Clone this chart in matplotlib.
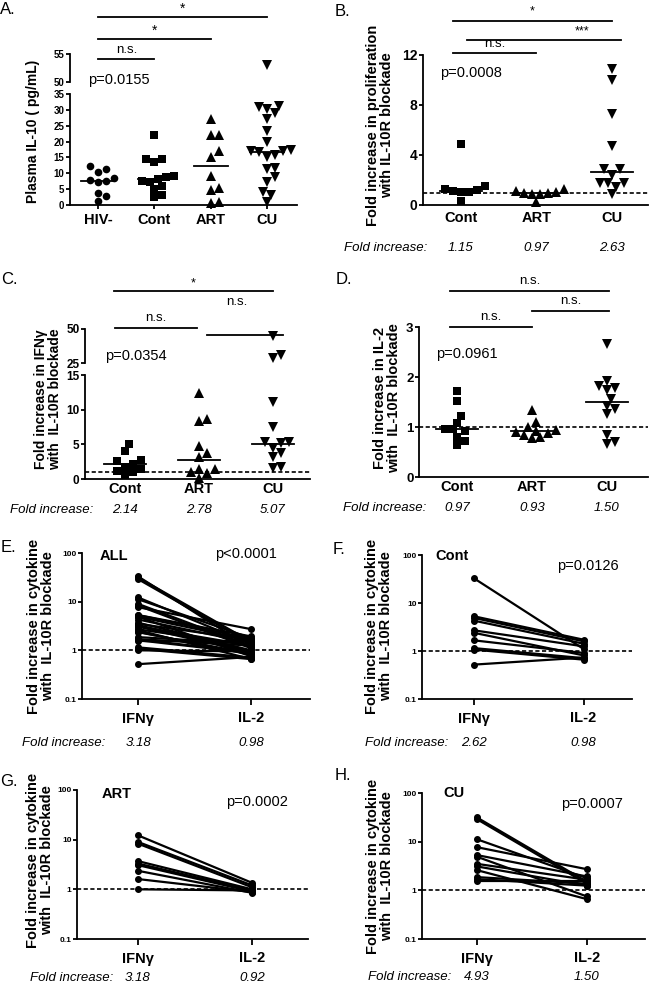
import numpy as np
import matplotlib
matplotlib.use("Agg")
import matplotlib.pyplot as plt
from matplotlib.lines import Line2D
from matplotlib.transforms import blended_transform_factory

plt.rcParams['font.family'] = ['Liberation Sans', 'DejaVu Sans']

# ---- data ----
# A: plasma IL-10 (pg/mL)
a_groups = ["HIV-", "Cont", "ART", "CU"]
a_hivneg = [12.3, 11.3, 10.3, 8.6, 8.0, 7.6, 7.3, 3.7, 2.8, 1.3]
a_cont = [22.1, 14.5, 14.4, 13.6, 9.0, 8.7, 8.3, 7.5, 7.4, 6.0, 5.2, 3.0, 2.5]
a_art = [27.1, 22.1, 22.1, 17.0, 15.2, 9.1, 5.3, 4.7, 1.0, 0.7]
a_cu = [53.0, 31.2, 31.0, 30.2, 28.9, 27.0, 23.4, 20.0, 17.4, 17.0, 17.0, 16.6,
        15.8, 15.2, 11.6, 11.3, 8.9, 7.4, 4.2, 3.2, 1.1]
a_medians = [7.7, 8.2, 12.3, 16.7]

groups3 = ["Cont", "ART", "CU"]
# B: proliferation
b_cont = [4.9, 1.55, 1.28, 1.2, 1.15, 1.07, 1.07, 0.3]
b_art = [1.3, 1.15, 1.05, 0.97, 0.97, 0.9, 0.85, 0.25]
b_cu = [10.9, 10.0, 7.3, 4.7, 2.9, 2.9, 2.4, 1.8, 1.8, 1.8, 1.45, 0.9]
b_medians = [1.15, 0.97, 2.63]
# C: IFNg
c_cont = [5.1, 4.1, 2.7, 2.6, 2.2, 1.8, 1.5, 1.1, 1.05, 0.6]
c_art = [12.4, 8.7, 8.3, 4.7, 3.7, 3.2, 1.5, 1.4, 1.0, 0.9, 0.15]
c_cu = [45.0, 31.0, 28.5, 11.1, 7.5, 5.3, 5.2, 5.3, 4.4, 3.8, 3.2, 1.7, 1.6]
c_medians = [2.14, 2.78, 5.07]
# D: IL-2
d_cont = [1.73, 1.53, 1.23, 1.09, 0.97, 0.96, 0.92, 0.81, 0.73, 0.64]
d_art = [1.35, 1.11, 1.0, 0.95, 0.93, 0.9, 0.89, 0.84, 0.8, 0.79]
d_cu = [2.66, 1.92, 1.82, 1.78, 1.74, 1.57, 1.42, 1.37, 1.26, 0.84, 0.71, 0.66]
d_medians = [0.97, 0.93, 1.50]

# E-H: paired IFNg / IL-2 fold increase
cytokines = ["IFNγ", "IL-2"]
f_ifng = [33.0, 5.3, 4.9, 4.3, 2.7, 2.4, 1.67, 1.15, 1.07, 0.52]
f_il2 = [1.1, 1.72, 1.59, 1.42, 1.25, 0.81, 0.91, 0.71, 0.66, 0.73]
g_ifng = [12.2, 9.0, 8.3, 3.7, 3.3, 3.07, 2.36, 1.61, 1.0]
g_il2 = [1.35, 1.2, 1.1, 1.0, 0.95, 0.9, 0.85, 0.88, 0.95]
h_ifng = [31.4, 29.0, 11.2, 7.7, 5.3, 4.9, 3.5, 3.1, 2.6, 1.87, 1.7, 1.53]
h_il2 = [1.5, 1.37, 1.78, 2.72, 1.93, 0.75, 1.65, 1.25, 0.66, 1.37, 1.25, 1.53]
e_ifng = f_ifng + g_ifng + h_ifng
e_il2 = f_il2 + g_il2 + h_il2
e_fold = ["3.18", "0.98"]
f_fold = ["2.62", "0.98"]
g_fold = ["3.18", "0.92"]
h_fold = ["4.93", "1.50"]

# ---- layout helpers (pixel coords, origin top-left) ----
W, H = 650, 983
fig = plt.figure(figsize=(W / 100, H / 100), dpi=100)


def fx(x):
    return x / W


def fy(y):
    return 1 - y / H


def add_ax(x0, y0, x1, y1):
    return fig.add_axes([fx(x0), fy(y1), (x1 - x0) / W, (y1 - y0) / H])


def style(ax, bottom=True):
    for s in ['top', 'right']:
        ax.spines[s].set_visible(False)
    for s in ['left', 'bottom']:
        ax.spines[s].set_linewidth(1.3)
    if not bottom:
        ax.spines['bottom'].set_visible(False)
        ax.set_xticks([])
    ax.tick_params(width=1.3, length=3, color='k')
    ax.patch.set_alpha(0)


def yticks(ax, ticks, labels, size):
    ax.set_yticks(ticks)
    ax.set_yticklabels(labels, fontsize=size, fontweight='bold')
    ax.tick_params(axis='y', pad=1)


def xcats(ax, labels, ticklen=0, pad=3, size=10.5):
    ax.set_xticks(range(len(labels)))
    ax.set_xticklabels(labels, fontsize=size, fontweight='bold')
    ax.tick_params(axis='x', length=ticklen, pad=pad)


def swarm(ax, xc, vals, size):
    if len(vals) == 0:
        return np.array([])
    pts = ax.transData.transform(np.column_stack([np.full(len(vals), float(xc)), vals]))
    ypx = pts[:, 1]
    cands = [0.0]
    for k in range(1, 10):
        cands += [k * 0.5 * size, -k * 0.5 * size]
    placed = []
    offs = np.zeros(len(vals))
    for i in np.argsort(ypx):
        for c in cands:
            if all((c - px) ** 2 + (ypx[i] - py) ** 2 >= (0.95 * size) ** 2 for px, py in placed):
                break
        offs[i] = c
        placed.append((c, ypx[i]))
    x0, x1 = ax.get_xlim()
    ppu = ax.get_window_extent().width / (x1 - x0)
    return xc + offs / ppu


def dots(ax, i, vals, marker, ms=5.2, size=8):
    vals = np.asarray(vals, float)
    xs = swarm(ax, i, vals, size)
    ax.plot(xs, vals, ls='none', marker=marker, color='k', ms=ms, clip_on=False,
            markeredgewidth=0)


def median_line(ax, i, m, half=0.28):
    ax.plot([i - half, i + half], [m, m], color='k', lw=1.3)


def sig(ax, x0, x1, ybar, label, ylab, xlab=None, size=9.5):
    tr = blended_transform_factory(ax.transData, fig.transFigure)
    fig.add_artist(Line2D([x0, x1], [fy(ybar)] * 2, transform=tr, color='k', lw=1.3))
    xm = (x0 + x1) / 2 if xlab is None else xlab
    ax.text(xm, fy(ylab), label, transform=tr, ha='center', va='center', fontsize=size)


def fold_row(ax, ypix, xleft, vals):
    fig.text(fx(xleft), fy(ypix), 'Fold increase:', ha='left', va='center',
             style='italic', fontsize=9.5)
    tr = blended_transform_factory(ax.transData, fig.transFigure)
    for i, v in enumerate(vals):
        ax.text(i, fy(ypix), v, transform=tr, ha='center', va='center',
                style='italic', fontsize=9.5)


def ylab(xc, yc, s, size=10.5):
    fig.text(fx(xc), fy(yc), s, rotation=90, ha='center', va='center',
             fontsize=size, fontweight='bold', linespacing=1.0)


def ptext(x, y, s, size=10.5, weight='normal'):
    fig.text(fx(x), fy(y), s, ha='left', va='center', fontsize=size, fontweight=weight)


def letter(x, y, s):
    fig.text(fx(x), fy(y), s, ha='left', va='center', fontsize=12)


markers = ['o', 's', '^', 'v']

# ---------------- A ----------------
axA = add_ax(70, 94, 297, 205)
axA2 = add_ax(70, 54, 297, 82)
for ax in (axA, axA2):
    ax.set_xlim(-0.5, 3.53)
style(axA)
style(axA2, bottom=False)
axA.set_ylim(0, 35)
axA2.set_ylim(50, 55)
yticks(axA, range(0, 36, 5), [str(v) for v in range(0, 36, 5)], 7)
yticks(axA2, [50, 55], ['50', '55'], 7)
xcats(axA, a_groups, ticklen=3, pad=2.5)
for i, vals in enumerate([a_hivneg, a_cont, a_art, a_cu]):
    lo = [v for v in vals if v <= 35]
    hi = [v for v in vals if v > 35]
    dots(axA, i, lo, markers[i], ms=5.5 if i < 2 else 6.5)
    dots(axA2, i, hi, markers[i], ms=6.5)
    median_line(axA, i, a_medians[i], half=0.3)
sig(axA, 0, 3, 17, '*', 9, size=10)
sig(axA, 0, 2, 39, '*', 31, size=10)
sig(axA, 0, 1, 59, 'n.s.', 50)
ptext(88, 80, 'p=0.0155')
ylab(33, 131, 'Plasma IL-10 ( pg/mL)', size=10)
letter(0, 10, 'A.')

# ---------------- B ----------------
axB = add_ax(423, 55, 648, 205)
axB.set_xlim(-0.5, 2.48)
axB.set_ylim(0, 12)
style(axB)
yticks(axB, [0, 4, 8, 12], ['0', '4', '8', '12'], 10)
xcats(axB, groups3, pad=4)
axB.axhline(1, color='k', lw=1.2, ls=(0, (2.5, 1.5)))
for i, vals in enumerate([b_cont, b_art, b_cu]):
    dots(axB, i, vals, markers[i + 1], ms=5.5 if i == 0 else 6.5)
    median_line(axB, i, b_medians[i])
sig(axB, -0.1, 2.0, 21, '*', 11, size=9)
sig(axB, 0.08, 2.12, 40, '***', 31, xlab=1.6, size=9)
sig(axB, -0.1, 1.0, 53, 'n.s.', 44)
ptext(440, 73, 'p=0.0008')
ylab(380, 125, 'Fold increase in proliferation\nwith IL-10R blockade')
fold_row(axB, 248, 344, [f"{m:.2f}" for m in b_medians])
letter(335, 12, 'B.')

# ---------------- C ----------------
axC = add_ax(85, 375, 310, 479)
axC2 = add_ax(85, 329, 310, 363)
for ax in (axC, axC2):
    ax.set_xlim(-0.54, 2.5)
style(axC)
style(axC2, bottom=False)
axC.set_ylim(0, 15)
axC2.set_ylim(25, 50)
yticks(axC, [0, 5, 10, 15], ['0', '5', '10', '15'], 8.5)
yticks(axC2, [25, 50], ['25', '50'], 8.5)
xcats(axC, groups3, pad=2)
axC.axhline(1, color='k', lw=1.2, ls=(0, (2.5, 1.5)))
for i, vals in enumerate([c_cont, c_art, c_cu]):
    lo = [v for v in vals if v <= 15]
    hi = [v for v in vals if v > 15]
    dots(axC, i, lo, markers[i + 1], ms=5.5 if i == 0 else 6.5)
    dots(axC2, i, hi, markers[i + 1], ms=6.5)
    median_line(axC, i, c_medians[i])
sig(axC, -0.15, 2.0, 291, '*', 283, size=9)
sig(axC, -0.14, 0.97, 328, 'n.s.', 318)
sig(axC, 1.11, 2.14, 335, 'n.s.', 302, xlab=1.51)
ptext(105, 356, 'p=0.0354')
ylab(48, 399, 'Fold increase in IFNγ\nwith  IL-10R blockade', size=10)
fold_row(axC, 510, 10, [f"{m:.2f}" for m in c_medians])
letter(1, 280, 'C.')

# ---------------- D ----------------
axD = add_ax(419, 327, 648, 477)
axD.set_xlim(-0.507, 2.55)
axD.set_ylim(0, 3)
style(axD)
yticks(axD, [0, 1, 2, 3], ['0', '1', '2', '3'], 9.5)
xcats(axD, groups3, pad=2)
axD.axhline(1, color='k', lw=1.2, ls=(0, (2.5, 1.5)))
for i, vals in enumerate([d_cont, d_art, d_cu]):
    dots(axD, i, vals, markers[i + 1], ms=5.5 if i == 0 else 6.5)
    median_line(axD, i, d_medians[i])
sig(axD, -0.09, 2.03, 291, 'n.s.', 281)
sig(axD, 1.0, 2.03, 311, 'n.s.', 301)
sig(axD, -0.09, 1.0, 327, 'n.s.', 317)
ptext(436, 354, 'p=0.0961')
ylab(387, 398, 'Fold increase in IL-2\nwith  IL-10R blockade')
fold_row(axD, 508, 343, [f"{m:.2f}" for m in d_medians])
letter(336, 279, 'D.')

# ---------------- E-H ----------------
paired = [
    ((82, 553, 310, 699), (-0.496, 1.52), e_ifng, e_il2, 'ALL', (100, 556), 'p<0.0001', (215, 554),
     e_fold, (743, 22), (41, 626), (1, 548), 'E.'),
    ((422, 555, 632, 699), (-0.47, 1.44), f_ifng, f_il2, 'Cont', (435, 556), 'p=0.0126', (557, 566),
     f_fold, (743, 365), (379, 626), (333, 550), 'F.'),
    ((77, 790, 308, 939), (-0.535, 1.49), g_ifng, g_il2, 'ART', (102, 794), 'p=0.0002', (226, 802),
     g_fold, (978, 30), (40, 860), (0, 782), 'G.'),
    ((422, 793, 645, 939), (-0.5, 1.53), h_ifng, h_il2, 'CU', (443, 793), 'p=0.0007', (561, 804),
     h_fold, (977, 368), (380, 866), (335, 775), 'H.'),
]
for box, xl, ifng, il2, grp, gpos, ptxt, ppos, fold, frow, lpos, lett, lett_s in paired:
    ax = add_ax(*box)
    style(ax)
    ax.set_yscale('log')
    ax.set_xlim(*xl)
    ax.set_ylim(0.1, 100)
    ax.minorticks_off()
    yticks(ax, [0.1, 1, 10, 100], ['0.1', '1', '10', '100'], 6)
    xcats(ax, cytokines, ticklen=4, pad=5)
    ax.axhline(1, color='k', lw=1.2, ls=(0, (2.5, 1.5)))
    for a, b in zip(ifng, il2):
        ax.plot([0, 1], [a, b], color='k', lw=1.6, marker='o', ms=4, clip_on=False)
    ptext(gpos[0], gpos[1], grp, weight='bold')
    ptext(ppos[0], ppos[1], ptxt)
    fold_row(ax, frow[0], frow[1], fold)
    ylab(lpos[0], lpos[1], 'Fold increase in cytokine\nwith  IL-10R blockade')
    letter(lett[0], lett[1], lett_s)

fig.savefig('out.png', dpi=100)
